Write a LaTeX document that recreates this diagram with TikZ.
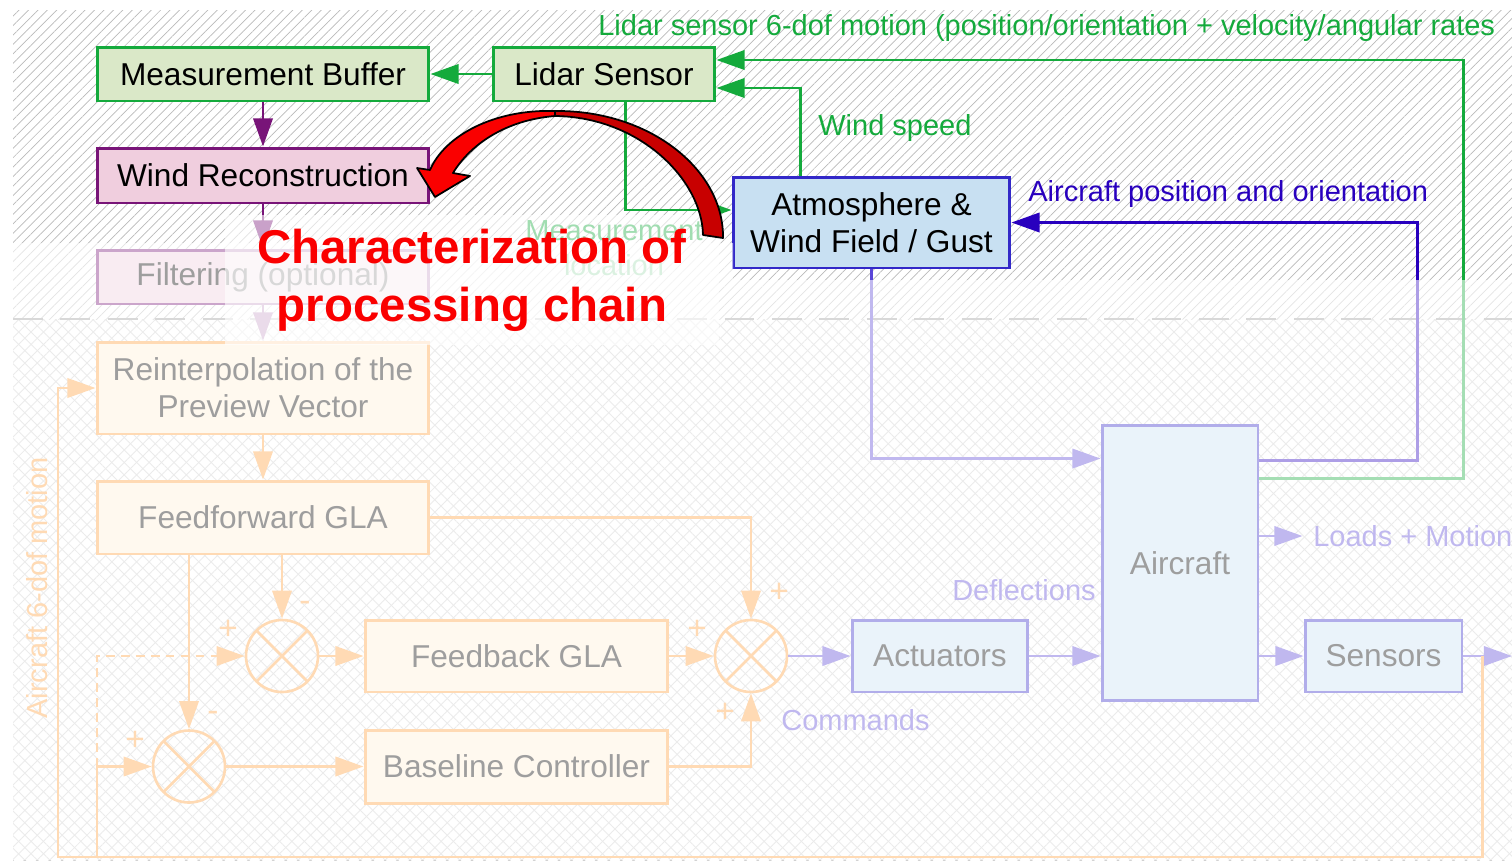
\documentclass[tikz,border=0pt]{standalone}
\usepackage{fontspec}
\setmainfont{Liberation Sans}
\usetikzlibrary{arrows.meta,positioning,calc,patterns.meta}
\definecolor{greenC}{RGB}{20,170,60}
\definecolor{greenF}{RGB}{218,232,200}
\definecolor{purpleC}{RGB}{120,20,120}
\definecolor{purpleF}{RGB}{240,206,222}
\definecolor{blueC}{RGB}{50,40,200}
\definecolor{blueF}{RGB}{200,224,242}
\definecolor{blueD}{RGB}{40,0,190}
\definecolor{violetC}{RGB}{90,70,215}
\definecolor{orangeC}{RGB}{255,160,60}
\definecolor{orangeF}{RGB}{255,240,215}
\definecolor{redF}{RGB}{250,0,0}
\definecolor{redD}{RGB}{200,0,0}
\tikzstyle{arrow} = [-{Triangle[length=16pt,width=11pt]}]
\tikzstyle{block} = [draw,text centered,align=center,inner sep=0pt,line width=1.7pt,font=\fontsize{18}{21}\selectfont]
\tikzstyle{greenbox} = [block,draw=greenC,fill=greenF]
\tikzstyle{purplebox} = [block,draw=purpleC,fill=purpleF]
\tikzstyle{bluebox} = [block,draw=blueC,fill=blueF]
\tikzstyle{orangebox} = [block,draw=orangeC,fill=orangeF]
\tikzstyle{sumnode} = [circle,draw=orangeC,line width=1.5pt,minimum size=1.44cm,inner sep=0pt,
  path picture={\draw[orangeC,line width=1.5pt] (path picture bounding box.south west) -- (path picture bounding box.north east)
  (path picture bounding box.north west) -- (path picture bounding box.south east);}]
\tikzstyle{sigtext} = [inner sep=0pt,font=\fontsize{16.5}{20}\selectfont]
\tikzstyle{signtext} = [inner sep=0pt,text=orangeC,font=\fontsize{19}{20}\selectfont]
\tikzstyle{line} = [line width=1.5pt]

\begin{document}
\begin{tikzpicture}[x=0.02cm,y=-0.02cm]
\useasboundingbox (0,0) rectangle (1512,860);
\clip (0,0) rectangle (1512,860);

% Background
\fill[pattern={Lines[angle=45,distance=3.8pt,line width=0.4pt]},pattern color=gray!55] (13,10) rectangle (1512,319);
\fill[pattern={Lines[angle=45,distance=5pt,line width=0.5pt]},pattern color=gray!40] (13,319) rectangle (1512,860);
\fill[pattern={Lines[angle=-45,distance=5pt,line width=0.5pt]},pattern color=gray!40] (13,319) rectangle (1512,860);
\draw[gray!80,line width=1.5pt,dash pattern=on 17pt off 10pt] (13,319) -- (1512,319);

\node[greenbox,minimum width=6.64cm,minimum height=1.08cm] (block0) at (263,74) {Measurement Buffer};
\node[greenbox,minimum width=4.44cm,minimum height=1.08cm] (block1) at (604,74) {Lidar Sensor};
\node[purplebox,minimum width=6.64cm,minimum height=1.1cm] (block2) at (263,175.5) {Wind Reconstruction};
\node[purplebox,minimum width=6.64cm,minimum height=1.08cm] (block3) at (263,277) {Filtering (optional)};
\node[orangebox,minimum width=6.64cm,minimum height=1.84cm] (block4) at (263,388) {Reinterpolation of the\\Preview Vector};
\node[orangebox,minimum width=6.64cm,minimum height=1.46cm] (block5) at (263,517.5) {Feedforward GLA};
\node[orangebox,minimum width=6.06cm,minimum height=1.44cm] (block6) at (516.5,656) {Feedback GLA};
\node[orangebox,minimum width=6.06cm,minimum height=1.46cm] (block7) at (516.5,766.5) {Baseline Controller};
\node[bluebox,minimum width=5.54cm,minimum height=1.82cm] (block8) at (871.5,222.5) {Atmosphere \&\\Wind Field / Gust};
\node[bluebox,minimum width=3.52cm,minimum height=1.44cm] (block9) at (940,656) {Actuators};
\node[bluebox,minimum width=3.12cm,minimum height=5.52cm] (block10) at (1180,563) {Aircraft};
\node[bluebox,minimum width=3.14cm,minimum height=1.44cm] (block11) at (1383.5,656) {Sensors};

\node[sumnode] (sum0) at (282,656) {};
\node[sumnode] (sum1) at (189,766.5) {};
\node[sumnode] (sum2) at (751,656) {};

\coordinate (bottom) at (97,857);
\coordinate (corner) at (58,857);
\coordinate (exit) at (1512,656);

% Labels
\node[sigtext,text=greenC,anchor=west] (lbl6dof) at (598,28) {Lidar sensor 6-dof motion (position/orientation + velocity/angular rates};
\node[sigtext,text=greenC,anchor=west] (lblwind) at (818,128) {Wind speed};
\node[sigtext,text=blueD,anchor=west] (lblpos) at (1028,194) {Aircraft position and orientation};
\node[sigtext,text=greenC,align=center] (lblmeas) at (614,248) {Measurement\\location};
\node[sigtext,text=violetC,anchor=east] (lbldefl) at (1096,590) {Deflections};
\node[sigtext,text=violetC,anchor=west] (lblcmd) at (781,720) {Commands};
\node[sigtext,text=violetC,anchor=west] (loads) at (1313,536) {Loads + Motion};
\node[sigtext,text=orangeC,rotate=90] (lblac) at (37,588) {Aircraft 6-dof motion};
\node[signtext] (s0p) at (228,630) {+};
\node[signtext] (s0m) at (305,606) {-};
\node[signtext] (s1p) at (135,741) {+};
\node[signtext] (s1m) at (213,716) {-};
\node[signtext] (s2p) at (697,630) {+};
\node[signtext] (s2t) at (779,593) {+};
\node[signtext] (s2b) at (725,713) {+};

% Arrows
\draw[line,greenC,arrow] (block1.west) -- (block0.east);
\draw[line,purpleC,arrow] (block0.south) -- (block2.north);
\draw[line,purpleC,arrow] (block2.south) -- (block3.north);
\draw[line,purpleC,arrow] (block3.south) -- (block4.north);
\draw[line,orangeC,arrow] (block4.south) -- (block5.north);
\draw[line,greenC,arrow] ($(block1.south west)+(134,0)$) |- ($(block8.west)+(0,-12.5)$);
\draw[line,greenC,arrow] ($(block8.north west)+(69,0)$) |- ($(block1.east)+(0,14)$);
\draw[line,greenC,arrow] ($(block10.north east)+(0,55)$) -- ++(204,0) |- ($(block1.east)+(0,-14)$);
\draw[line,blueD,arrow] ($(block10.north east)+(0,37)$) -- ++(158,0) |- (block8.east);
\draw[line,violetC,arrow] (block8.south) |- ($(block10.north west)+(0,35)$);
\draw[line,violetC,arrow] (block10.east |- loads.west) -- ([xshift=-6pt]loads.west);
\draw[line,violetC,arrow] (block10.east |- block11.west) -- (block11.west);
\draw[line,violetC,arrow] (block11.east) -- (exit);
\draw[line,violetC,arrow] (sum2.east) -- (block9.west);
\draw[line,violetC,arrow] (block9.east) -- (block10.west |- block9.east);
\draw[line,orangeC,arrow] ($(block11.east)+(19,0)$) |- (corner) |- (block4.west);
\draw[line,orangeC,arrow] (bottom) |- (sum1.west);
\draw[line,orangeC,dash pattern=on 5pt off 3.5pt,arrow] (bottom |- sum1.west) |- (sum0.west);
\draw[line,orangeC,arrow] (sum0 |- block5.south) -- (sum0.north);
\draw[line,orangeC,arrow] (sum1 |- block5.south) -- (sum1.north);
\draw[line,orangeC,arrow] (block5.east) -| (sum2.north);
\draw[line,orangeC,arrow] (sum0.east) -- (block6.west);
\draw[line,orangeC,arrow] (block6.east) -- (sum2.west);
\draw[line,orangeC,arrow] (sum1.east) -- (block7.west);
\draw[line,orangeC,arrow] (block7.east) -| (sum2.south);

% Fade
\fill[white,opacity=0.62] (13,243) -- (733,243) -- (733,280) -- (1512,280) -- (1512,860) -- (13,860) -- cycle;

\node[fill=white,fill opacity=0.6,text opacity=1,text=redF,font=\fontsize{27}{33}\selectfont\bfseries,
  align=center,minimum width=9.9cm,minimum height=2.6cm] (title) at (472,280) {Characterization of\\processing chain};

\filldraw[fill=redD,draw=black,line width=1pt,line join=round]
  (555,111) .. controls (650,110) and (724,170) .. (723,238)
  -- (703,235) .. controls (702,180) and (640,117) .. (555,116) -- cycle;
\filldraw[fill=redF,draw=black,line width=1pt,line join=round]
  (555,111) .. controls (495,109) and (445,135) .. (430,170)
  -- (417,168) -- (435,197) -- (470,176) -- (453,173)
  .. controls (470,145) and (505,120) .. (555,116) -- cycle;
\end{tikzpicture}
\end{document}
